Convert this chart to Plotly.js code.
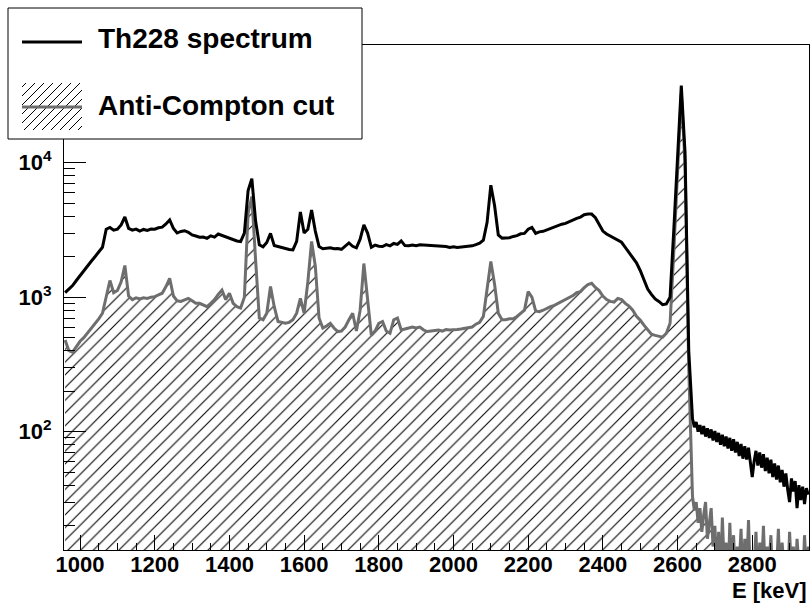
<!DOCTYPE html>
<html>
<head>
<meta charset="utf-8">
<script src="https://cdn.plot.ly/plotly-3.0.1.min.js"></script>
<style>html,body{margin:0;padding:0;background:#fff;}#chart{width:810px;height:603px;}</style>
</head>
<body>
<div id="chart"></div>
<script>
// ---- data (bin centres in keV, counts per bin) ----
const energies = [
  960,970,980,990,
  1000,1010,1020,1030,1040,1050,1060,1070,1080,1090,
  1100,1110,1120,1130,1140,1150,1160,1170,1180,1190,
  1200,1210,1220,1230,1240,1250,1260,1270,1280,1290,
  1300,1310,1320,1330,1340,1350,1360,1370,1380,1390,
  1400,1410,1420,1430,1440,1450,1460,1470,1480,1490,
  1500,1510,1520,1530,1540,1550,1560,1570,1580,1590,
  1600,1610,1620,1630,1640,1650,1660,1670,1680,1690,
  1700,1710,1720,1730,1740,1750,1760,1770,1780,1790,
  1800,1810,1820,1830,1840,1850,1860,1870,1880,1890,
  1900,1910,1920,1930,1940,1950,1960,1970,1980,1990,
  2000,2010,2020,2030,2040,2050,2060,2070,2080,2090,
  2100,2110,2120,2130,2140,2150,2160,2170,2180,2190,
  2200,2210,2220,2230,2240,2250,2260,2270,2280,2290,
  2300,2310,2320,2330,2340,2350,2360,2370,2380,2390,
  2400,2410,2420,2430,2440,2450,2460,2470,2480,2490,
  2500,2510,2520,2530,2540,2550,2560,2570,2580,2590,
  2600,2610,2620,2630,
  2640,2645,2650,2655,2660,2665,2670,2675,2680,2685,2690,2695,
  2700,2705,2710,2715,2720,2725,2730,2735,2740,2745,2750,2755,
  2760,2765,2770,2775,2780,2785,2790,2795,2800,2805,2810,2815,
  2820,2825,2830,2835,2840,2845,2850,2855,2860,2865,2870,2875,
  2880,2885,2890,2895,2900,2905,2910,2915,2920,2925,2930,2935,
  2940,2945,2950
];
const th228Counts = [
  1080,1150,1220,1330,
  1450,1560,1700,1850,2000,2150,2350,3200,3300,3150,
  3200,3450,3950,3250,3150,3210,3100,3190,3140,3210,
  3200,3280,3320,3500,3750,3250,3000,3080,3120,3040,
  2900,2850,2790,2800,2740,2860,2800,2950,2880,2810,
  2750,2690,2620,2590,3000,6200,7600,3700,2450,2370,
  2550,2980,2420,2380,2330,2280,2260,2250,2600,4300,
  3000,3200,4450,3100,2380,2290,2320,2330,2290,2300,
  2270,2400,2530,2390,2330,2700,3450,3000,2350,2440,
  2390,2380,2460,2410,2510,2470,2620,2420,2410,2440,
  2410,2450,2440,2420,2410,2380,2380,2370,2380,2340,
  2370,2340,2350,2390,2400,2410,2460,2520,2650,3600,
  6800,4800,2900,2750,2760,2770,2830,2870,2960,2980,
  3200,3300,2980,3060,3090,3170,3240,3360,3410,3490,
  3540,3660,3740,3860,3940,4100,4150,4150,3900,3500,
  3100,2950,2850,2750,2650,2560,2350,2150,1980,1800,
  1580,1340,1150,1050,970,930,880,890,1000,3200,
  12000,37500,12000,400,
  125,108,118,100,112,96,110,92,106,90,104,86,
  101,84,98,80,95,78,92,75,90,72,88,70,
  84,66,81,63,78,62,76,58,46,60,72,56,
  70,54,68,51,64,49,62,46,58,44,56,42,
  52,39,49,37,30,45,36,43,27,40,31,39,
  29,38,34
];
const antiComptonCounts = [
  480,400,390,430,
  470,500,540,580,630,690,760,1000,1330,1080,
  1120,1300,1720,1020,960,990,970,990,980,1000,
  1010,1040,1070,1200,1380,1020,940,930,960,980,
  940,900,900,870,850,900,960,1050,1130,960,
  1070,900,850,830,1000,4200,5600,1900,700,680,
  760,1200,850,660,650,640,650,680,760,980,
  760,1300,2600,1700,700,590,610,640,590,555,
  560,600,680,760,560,800,1780,1000,520,560,
  640,660,560,540,680,700,570,580,590,600,
  590,600,570,555,560,565,570,560,575,570,
  570,575,580,585,590,600,630,650,720,1150,
  1840,1250,760,680,680,690,690,720,760,800,
  1100,1000,790,780,800,830,850,870,900,930,
  955,990,1030,1080,1100,1180,1240,1270,1180,1120,
  1020,960,930,920,980,960,900,860,800,720,
  676,620,570,530,520,510,505,540,640,2200,
  9000,32800,10000,300,
  33,26,30,21,27,18,24,30,16,22,27,14,
  20,9,18,8,23,10,15,7,21,9,17,8,
  14,10,19,7,16,9,22,8,13,10,18,7,
  15,9,20,8,14,10,17,7,12,9,19,8,
  15,10,13,7,18,9,14,8,16,10,12,7,
  17,9,14
];
const seriesNames = ['Th228 spectrum', 'Anti-Compton cut'];
const yTickVals = [100, 1000, 10000];
const yTickText = ['10<sup>2</sup>', '10<sup>3</sup>', '10<sup>4</sup>'];
const yMinorVals = [20,30,40,50,60,70,80,90,200,300,400,500,600,700,800,900,
  2000,3000,4000,5000,6000,7000,8000,9000,20000,30000,40000,50000,60000,70000];
const xTitle = 'E [keV]';

// ---- layout helpers (pixel -> paper) ----
const W = 810, H = 603;
const px = v => v / W;
const py = v => 1 - v / H;
const GREY = '#6e6e6e';
const FONT = 'Liberation Sans, Arial, Helvetica, sans-serif';

const traces = [
  {
    x: energies, y: antiComptonCounts, name: seriesNames[1],
    type: 'scatter', mode: 'lines',
    line: {color: GREY, width: 3, shape: 'linear'},
    fill: 'tozeroy',
    fillpattern: {shape: '/', size: 9, solidity: 0.12, fgcolor: '#000000', bgcolor: '#ffffff', fillmode: 'replace'},
    hoverinfo: 'skip'
  },
  {
    x: energies, y: th228Counts, name: seriesNames[0],
    type: 'scatter', mode: 'lines',
    line: {color: '#000000', width: 3, shape: 'linear'},
    hoverinfo: 'skip'
  }
];

// legend box + samples
const shapes = [
  {type: 'rect', xref: 'paper', yref: 'paper', x0: px(8), x1: px(362), y0: py(139), y1: py(8),
   fillcolor: '#ffffff', line: {color: '#000000', width: 1}, layer: 'above'}
];
const bx0 = 22, bx1 = 82, by0 = 83, by1 = 130, step = 9;
for (let c = bx0 + by0 + 4; c < bx1 + by1; c += step) {
  const xa = Math.max(bx0, c - by1), xb = Math.min(bx1, c - by0);
  if (xb <= xa) continue;
  shapes.push({type: 'line', xref: 'paper', yref: 'paper',
    x0: px(xa), y0: py(c - xa), x1: px(xb), y1: py(c - xb),
    line: {color: '#000000', width: 1}, layer: 'above'});
}
shapes.push({type: 'line', xref: 'paper', yref: 'paper', x0: px(22), x1: px(82), y0: py(107), y1: py(107),
  line: {color: GREY, width: 3}, layer: 'above'});
shapes.push({type: 'line', xref: 'paper', yref: 'paper', x0: px(22), x1: px(82), y0: py(42), y1: py(42),
  line: {color: '#000000', width: 3}, layer: 'above'});

const annotations = [
  {text: seriesNames[0], xref: 'paper', yref: 'paper', x: px(96), y: py(38), xanchor: 'left', yanchor: 'middle',
   showarrow: false, font: {family: FONT, size: 28, weight: 'bold', color: '#000'}},
  {text: seriesNames[1], xref: 'paper', yref: 'paper', x: px(96), y: py(106), xanchor: 'left', yanchor: 'middle',
   showarrow: false, font: {family: FONT, size: 28, weight: 'bold', color: '#000'}},
  {text: xTitle, xref: 'paper', yref: 'paper', x: px(809), y: py(590), xanchor: 'right', yanchor: 'middle',
   showarrow: false, font: {family: FONT, size: 22, weight: 'bold', color: '#000'}}
];

const layout = {
  width: W, height: H,
  margin: {l: 0, r: 0, t: 0, b: 0, pad: 0},
  paper_bgcolor: '#ffffff', plot_bgcolor: '#ffffff',
  showlegend: false,
  font: {family: FONT, size: 22, color: '#000'},
  xaxis: {
    domain: [px(64), px(809)],
    range: [957, 2952],
    tickmode: 'linear', tick0: 1000, dtick: 200,
    ticks: 'inside', ticklen: 15, tickwidth: 1, tickcolor: '#000',
    minor: {ticks: 'inside', ticklen: 7, tickwidth: 1, tickcolor: '#000', tick0: 1000, dtick: 50, showgrid: false},
    showline: true, linecolor: '#000', linewidth: 1, mirror: true,
    showgrid: false, zeroline: false,
    ticklabelstandoff: -5,
    tickfont: {family: FONT, size: 22, weight: 'bold', color: '#000'}
  },
  yaxis: {
    type: 'log',
    domain: [1 - 550 / H, 1 - 45 / H],
    range: [1.1204, 4.875],
    tickmode: 'array', tickvals: yTickVals, ticktext: yTickText,
    ticks: 'inside', ticklen: 22, tickwidth: 1, tickcolor: '#000',
    minor: {tickmode: 'array', tickvals: yMinorVals, ticks: 'inside', ticklen: 11, tickwidth: 1, tickcolor: '#000', showgrid: false},
    showline: true, linecolor: '#000', linewidth: 1, mirror: true,
    showgrid: false, zeroline: false,
    ticklabelstandoff: 7,
    tickfont: {family: FONT, size: 22, weight: 'bold', color: '#000'}
  },
  shapes: shapes,
  annotations: annotations
};

Plotly.newPlot('chart', traces, layout, {staticPlot: true, displayModeBar: false});
</script>
</body>
</html>
